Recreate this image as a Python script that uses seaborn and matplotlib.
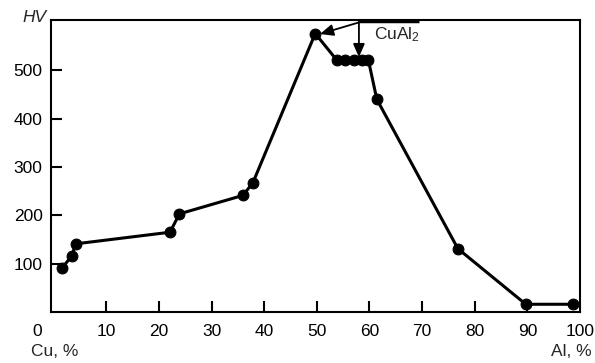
import matplotlib
matplotlib.use("Agg")
import matplotlib.pyplot as plt
import matplotlib.transforms as mtransforms
import seaborn as sns
import pandas as pd

# Data
al_pct = [1.5, 3.4, 4.2, 22.1, 23.9, 35.9, 37.8, 49.7, 53.8, 55.4, 57.0, 58.5, 59.8, 61.4, 76.8, 89.7, 98.6]
hv = [90, 115, 141, 165, 203, 241, 266, 576, 521, 521, 521, 521, 521, 440, 131, 16, 16]
x_ticks = [0, 10, 20, 30, 40, 50, 60, 70, 80, 90, 100]
y_ticks = [100, 200, 300, 400, 500]

df = pd.DataFrame({"Al": al_pct, "HV": hv})

sns.set_style("ticks")
plt.rcParams["font.family"] = ["Liberation Sans", "DejaVu Sans"]
plt.rcParams["mathtext.default"] = "regular"

fig = plt.figure(figsize=(5.95, 3.63), dpi=100)
ax = fig.add_axes([51/595, 1 - 312/363, (580 - 51)/595, (312 - 20)/363])

sns.lineplot(data=df, x="Al", y="HV", ax=ax, sort=False, color="black",
             linewidth=2.2, marker="o", markersize=7.8, markeredgecolor="black",
             markerfacecolor="black", clip_on=False, zorder=3)

ax.set_xlim(-0.5, 100)
ax.set_ylim(0, 604)
ax.set_xticks(x_ticks)
ax.set_xticklabels([str(v) for v in x_ticks])
ax.set_yticks(y_ticks)
ax.set_yticklabels([str(v) for v in y_ticks])
ax.tick_params(axis="both", direction="in", length=8, width=1.5, labelsize=12.5,
               color="black", labelcolor="black")
ax.tick_params(axis="x", pad=9)
ax.tick_params(axis="y", pad=6)
for s in ax.spines.values():
    s.set_linewidth(1.5)
    s.set_color("black")
    s.set_visible(True)
ax.set_xlabel("")
ax.set_ylabel("")
ax.grid(False)

# hide x ticks at 0 and 100 (coincide with spines)
for t in ax.xaxis.get_major_ticks():
    if t.get_loc() in (0, 100):
        t.tick1line.set_visible(False)

# shift "0" label left as in reference
labels = ax.get_xticklabels()
labels[0].set_transform(labels[0].get_transform() +
                        mtransforms.ScaledTranslation(-16/100, 0, fig.dpi_scale_trans))

# Axis labels as in reference
fig.text(31/595, 1 - 352/363, "Cu, %", fontsize=12.5, ha="left", va="center")
fig.text(592/595, 1 - 352/363, "Al, %", fontsize=12.5, ha="right", va="center")
fig.text(47/595, 1 - 17/363, "HV", fontsize=12.5, ha="right", va="center", style="italic")

# CuAl2 annotation
yl = 601
ax.plot([58.0, 69.4], [yl, yl], color="black", lw=2.5, clip_on=False, solid_capstyle="butt")
ax.annotate("", xy=(58.0, 527), xytext=(58.0, yl),
            arrowprops=dict(arrowstyle="-|>,head_length=0.8,head_width=0.35",
                            color="black", lw=1.3, shrinkA=0, shrinkB=0))
ax.annotate("", xy=(50.6, 575), xytext=(58.0, yl - 2),
            arrowprops=dict(arrowstyle="-|>,head_length=0.8,head_width=0.35",
                            color="black", lw=1.3, shrinkA=0, shrinkB=0))
ax.text(60.8, 573, "CuAl$_2$", fontsize=12.5, ha="left", va="center")

fig.savefig("out.png", dpi=100)
